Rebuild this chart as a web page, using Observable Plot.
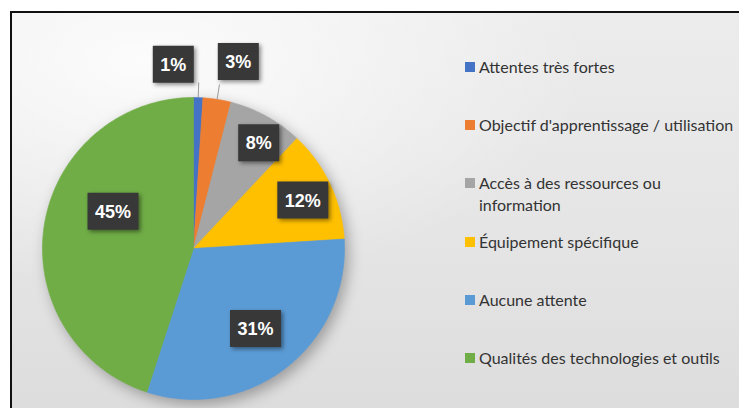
<!DOCTYPE html>
<html>
<head>
<meta charset="utf-8">
<script src="https://cdn.jsdelivr.net/npm/d3@7"></script>
<script src="https://cdn.jsdelivr.net/npm/@observablehq/plot@0.6"></script>
<style>
  html, body { margin: 0; padding: 0; background: #fff; }
  #wrap { position: relative; width: 739px; height: 408px; overflow: hidden; background: #fff; }
  #frame {
    position: absolute; left: 10px; top: 11px; width: 740px; height: 410px;
    border-top: 2px solid #111; border-left: 2px solid #111;
    background:
      radial-gradient(ellipse 60% 55% at 18% 12%, rgba(255,255,255,0.85) 0%, rgba(255,255,255,0) 100%),
      linear-gradient(180deg, #ececec 0%, #e4e4e4 60%, #dcdcdc 100%);
  }
  #chart { position: absolute; left: 0; top: 0; }
  #legend {
    position: absolute; left: 465px; top: 38px;
    font-family: Lato, "Open Sans", sans-serif; font-size: 16px; color: #333;
  }
  .row { height: 58.2px; box-sizing: border-box; padding-top: 18px; display: flex; align-items: flex-start; }
  .sw { width: 10px; height: 10px; margin-top: 6px; margin-right: 4px; flex: none; }
  .lab { line-height: 22px; white-space: pre-line; }
</style>
</head>
<body>
<div id="wrap">
  <div id="frame"></div>
  <div id="chart"></div>
  <div id="legend"></div>
</div>
<script>
// ---- data ----
const categories = [
  "Attentes très fortes",
  "Objectif d'apprentissage / utilisation",
  "Accès à des ressources ou information",
  "Équipement spécifique",
  "Aucune attente",
  "Qualités des technologies et outils"
];
const legendLabels = [
  "Attentes très fortes",
  "Objectif d'apprentissage / utilisation",
  "Accès à des ressources ou\ninformation",
  "Équipement spécifique",
  "Aucune attente",
  "Qualités des technologies et outils"
];
const values = [1, 3, 8, 12, 31, 45];
const percentLabels = ["1%", "3%", "8%", "12%", "31%", "45%"];
const colors = ["#4472C4", "#ED7D31", "#A5A5A5", "#FFC000", "#5B9BD5", "#70AD47"];

// ---- slices (angles from the values, clockwise from 12 o'clock) ----
const total = d3.sum(values);
let cum = 0;
const slices = values.map((v, i) => {
  const a0 = cum / total * 2 * Math.PI;
  cum += v;
  const a1 = cum / total * 2 * Math.PI;
  return { cat: categories[i], value: v, label: percentLabels[i], a0, a1, mid: (a0 + a1) / 2 };
});
const piePoints = [];
for (const s of slices) {
  const n = Math.max(2, Math.ceil((s.a1 - s.a0) / (Math.PI / 180)));
  piePoints.push({ cat: s.cat, x: 0, y: 0 });
  for (let k = 0; k <= n; k++) {
    const a = s.a0 + (s.a1 - s.a0) * k / n;
    piePoints.push({ cat: s.cat, x: Math.sin(a), y: Math.cos(a) });
  }
  piePoints.push({ cat: s.cat, x: 0, y: 0 });
}
const labelRadius = v => v < 5 ? 1.22 : v < 20 ? 0.8 : v < 40 ? 0.67 : 0.6;
const lx = d => labelRadius(d.value) * Math.sin(d.mid);
const ly = d => labelRadius(d.value) * Math.cos(d.mid);

const boxSymbol = (w, h) => ({ draw(ctx) { ctx.rect(-w / 2, -h / 2, w, h); } });
const shadow = "drop-shadow(2px 2px 2px rgba(0,0,0,0.45))";

function labelMarks(filter, dx, dy) {
  const data = slices.filter(filter);
  const narrow = data.filter(d => d.label.length <= 2);
  const wide = data.filter(d => d.label.length > 2);
  return [
    Plot.dot(narrow, { x: lx, y: ly, dx, dy, symbol: boxSymbol(41, 37), fill: "#383838", stroke: null, imageFilter: shadow }),
    Plot.dot(wide, { x: lx, y: ly, dx, dy, symbol: boxSymbol(51, 37), fill: "#383838", stroke: null, imageFilter: shadow }),
    Plot.text(data, { x: lx, y: ly, dx, dy: dy + 1, text: "label", fill: "#fff", fontWeight: "bold", fontSize: 18, fontFamily: "'Liberation Sans', Arial, sans-serif" })
  ];
}

const outside = slices.filter(d => d.value < 5);

const chart = Plot.plot({
  width: 440,
  height: 408,
  margin: 0,
  x: { domain: [-1, 1], range: [42, 344], axis: null },
  y: { domain: [-1, 1], range: [399, 97], axis: null },
  color: { domain: categories, range: colors },
  style: { background: "transparent", overflow: "visible" },
  marks: [
    Plot.line(piePoints, { x: "x", y: "y", z: "cat", fill: "cat", stroke: "cat", strokeWidth: 0.6, curve: "linear", imageFilter: "drop-shadow(4px 5px 7px rgba(0,0,0,0.30))" }),
    Plot.link(outside, {
      x1: d => Math.sin(d.mid), y1: d => Math.cos(d.mid),
      x2: d => 1.1 * Math.sin(d.mid), y2: d => 1.1 * Math.cos(d.mid),
      stroke: "#9a9a9a", strokeWidth: 1
    }),
    ...labelMarks(d => d.value === 1, -26, 0),
    ...labelMarks(d => d.value === 3, 16, -5),
    ...labelMarks(d => d.value === 8, 7, 0),
    ...labelMarks(d => d.value === 12, 0, 3),
    ...labelMarks(d => d.value === 31, 0, 0),
    ...labelMarks(d => d.value === 45, 9, -23)
  ]
});
document.getElementById("chart").appendChild(chart);

// ---- legend ----
const legend = document.getElementById("legend");
categories.forEach((c, i) => {
  const row = document.createElement("div");
  row.className = "row";
  const sw = document.createElement("div");
  sw.className = "sw";
  sw.style.background = colors[i];
  const lab = document.createElement("div");
  lab.className = "lab";
  lab.textContent = legendLabels[i];
  row.appendChild(sw);
  row.appendChild(lab);
  legend.appendChild(row);
});
</script>
</body>
</html>
